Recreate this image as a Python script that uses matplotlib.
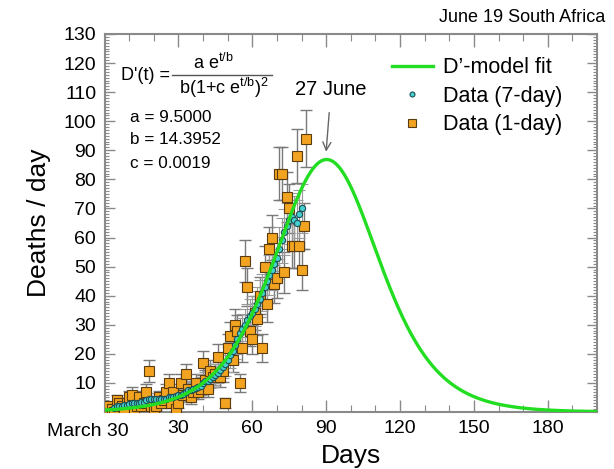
import numpy as np
import matplotlib
matplotlib.use("Agg")
import matplotlib.pyplot as plt
from matplotlib.ticker import MultipleLocator, FixedLocator

plt.rcParams['font.family'] = ['Liberation Sans', 'DejaVu Sans']
plt.rcParams['mathtext.fontset'] = 'custom'
plt.rcParams['mathtext.rm'] = 'Liberation Sans'
plt.rcParams['mathtext.it'] = 'Liberation Sans'

# ---- data ----
title = "June 19 South Africa"
params_a, params_b, params_c = 9.5000, 14.3952, 0.0019

days_1day = list(range(1, 83))
deaths_1day = [1, 2, 1, 0, 4, 3, 2, 1, 3, 5,
               6, 1, 2, 5, 2, 3, 7, 14, 2, 1,
               2, 5, 3, 4, 7, 10, 3, 7, 1, 3,
               10, 6, 13, 8, 5, 7, 10, 7, 8, 17,
               11, 8, 14, 12, 13, 19, 12, 14, 3, 22,
               26, 18, 30, 28, 10, 22, 52, 43, 28, 25,
               34, 32, 40, 22, 50, 37, 56, 60, 44, 46,
               82, 82, 48, 74, 70, 57, 57, 88, 57, 49,
               64, 94]

days_7day = list(range(4, 81))
deaths_7day = [1.5, 2, 2, 2, 2.3, 2.5, 2.7, 3, 3, 3,
               3.2, 3.3, 3.5, 4, 4.5, 4.5, 4.3, 4.3, 4.3, 4.5,
               4.5, 4.6, 5, 5.2, 5.3, 5.5, 5.8, 6, 6.2, 7,
               7.4, 7.7, 8, 8.2, 8.5, 9, 10, 10.5, 10.8, 11.5,
               12, 12.8, 13.5, 14.5, 15.5, 16.5, 18, 19.5, 21, 23,
               25, 27, 28.5, 30, 31.5, 33, 34, 35.5, 37, 39,
               41, 43, 45, 47, 49, 51, 53, 56, 59, 62,
               64, 66, 67, 66, 65, 68, 70]

x_ticks = [30, 60, 90, 120, 150, 180]
y_ticks = [10, 20, 30, 40, 50, 60, 70, 80, 90, 100, 110, 120, 130]
peak_label = "27 June"
peak_day = 90

# model curve from the parameters printed on the chart
t = np.linspace(0, 200, 801)
e = np.exp(t / params_b)
model = params_a * e / (params_b * (1 + params_c * e) ** 2)

# ---- figure ----
W, H = 614, 469
fig = plt.figure(figsize=(W / 100, H / 100), dpi=100)
L, R, T, B = 104.5, 597, 34, 412
ax = fig.add_axes([L / W, (H - B) / H, (R - L) / W, (B - T) / H])

d1 = np.array(deaths_1day, dtype=float)
d7 = np.array(deaths_7day, dtype=float)

ax.errorbar(days_1day, d1, yerr=np.sqrt(d1), fmt='none', ecolor='#7a7a7a',
            elinewidth=1.0, capsize=4, capthick=1.0, zorder=2)
ax.errorbar(days_7day, d7, yerr=np.sqrt(d7), fmt='none', ecolor='#9a9a9a',
            elinewidth=0.8, capsize=4, capthick=0.8, zorder=2)
ax.plot(days_1day, d1, 's', mfc='#f2a31f', mec='#5a3c10', mew=0.8, ms=6.5,
        zorder=3, label='Data (1-day)')
ax.plot(days_7day, d7, 'o', mfc='#45cfcf', mec='#1e4f55', mew=0.8, ms=4.5,
        zorder=4, label='Data (7-day)')
ax.plot(t, model, '-', color='#22dd22', lw=2.4, zorder=5, label="D\u2019-model fit")

ax.set_xlim(0, 200)
ax.set_ylim(0, 130)

ax.xaxis.set_major_locator(FixedLocator(x_ticks))
ax.xaxis.set_minor_locator(MultipleLocator(10))
ax.yaxis.set_major_locator(FixedLocator(y_ticks))
ax.yaxis.set_minor_locator(MultipleLocator(1))
ax.tick_params(which='both', direction='in', top=True, right=True, color='#8a8a8a')
ax.tick_params(which='major', length=7, width=1.0, labelsize=14, pad=6)
ax.tick_params(which='minor', length=3, width=0.8)
ax.tick_params(axis='x', which='major', length=9)
ax.tick_params(axis='x', which='minor', length=5)
for s in ax.spines.values():
    s.set_color('#8a8a8a')
    s.set_linewidth(1.5)

ax.set_xlabel('Days', fontsize=19, labelpad=5)
ax.set_ylabel('Deaths / day', fontsize=19, labelpad=9)

fig.text(88 / W, 1 - 431 / H, 'March 30', fontsize=14, ha='center', va='center')
fig.text(605 / W, 1 - 18 / H, title, fontsize=13, ha='right', va='center')

# formula
fig.text(121 / W, 1 - 75 / H, "D'(t) =", fontsize=13, ha='left', va='center')
fig.text(213 / W, 1 - 63 / H, r"a e$^{\mathregular{t/b}}$", fontsize=13, ha='center', va='center')
fig.text(224 / W, 1 - 88 / H, r"b(1+c e$^{\mathregular{t/b}}$)$^{\mathregular{2}}$", fontsize=13,
         ha='center', va='center')
fig.add_artist(plt.Line2D([172 / W, 272 / W], [1 - 75 / H, 1 - 75 / H], color='#555555', lw=1.0))
fig.text(130 / W, 1 - 118 / H, f"a = {params_a:.4f}", fontsize=12.3, ha='left', va='center')
fig.text(130 / W, 1 - 140 / H, f"b = {params_b:.4f}", fontsize=12.3, ha='left', va='center')
fig.text(130 / W, 1 - 163 / H, f"c = {params_c:.4f}", fontsize=12.3, ha='left', va='center')

# arrow for peak
ax.annotate(peak_label, xy=(peak_day, 89.5), xytext=(peak_day + 2, 111),
            fontsize=14.5, ha='center', va='center',
            arrowprops=dict(arrowstyle='->', color='#666666', lw=1.0, shrinkA=8, shrinkB=0))

handles, labels = ax.get_legend_handles_labels()
order = [2, 1, 0]
leg = ax.legend([handles[i] for i in order], [labels[i] for i in order],
                loc='upper right', bbox_to_anchor=(0.97, 0.99), frameon=False,
                fontsize=15.5, labelspacing=0.35, handlelength=1.9, handletextpad=0.5,
                markerscale=0.8)

fig.savefig('out.png', dpi=100)
